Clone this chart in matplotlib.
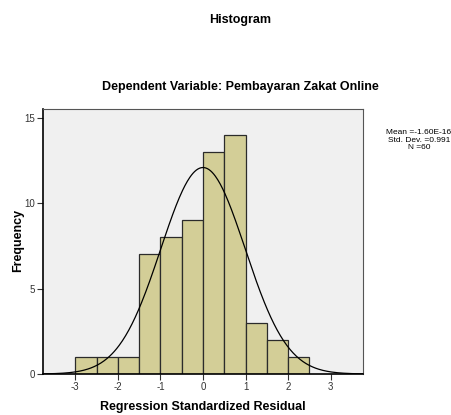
import numpy as np
import matplotlib
matplotlib.use("Agg")
import matplotlib.pyplot as plt

bin_edges = [-3.0, -2.5, -2.0, -1.5, -1.0, -0.5, 0.0, 0.5, 1.0, 1.5, 2.0, 2.5]
counts = [1, 1, 1, 7, 8, 9, 13, 14, 3, 2, 1]
mean = -1.60e-16
std = 0.991
n = 60
xticks = [-3, -2, -1, 0, 1, 2, 3]
yticks = [0, 5, 10, 15]

plt.rcParams['font.family'] = ['Liberation Sans', 'DejaVu Sans']

fig = plt.figure(figsize=(4.52, 4.15), dpi=100)
W, H = 452, 415
ax = fig.add_axes([43 / W, 1 - 374 / H, (363 - 43) / W, (374 - 109) / H])
ax.set_facecolor('#F0F0F0')

widths = np.diff(bin_edges)
ax.bar(bin_edges[:-1], counts, width=widths, align='edge', color='#D3CE97',
       edgecolor='#2b2b2b', linewidth=0.9, zorder=2)

xs = np.linspace(-3.76, 3.76, 400)
bw = widths[0]
ys = n * bw * np.exp(-0.5 * ((xs - mean) / std) ** 2) / (std * np.sqrt(2 * np.pi))
ax.plot(xs, ys, color='black', linewidth=0.9, zorder=3)

ax.set_xlim(-3.76, 3.76)
ax.set_ylim(0, 15.5)
ax.set_xticks(xticks)
ax.set_xticklabels([str(t) for t in xticks])
ax.set_yticks(yticks)
ax.tick_params(axis='both', direction='out', length=4, width=0.8, labelsize=7, pad=2,
               colors='#333333')
for s in ['top', 'right']:
    ax.spines[s].set_color('#555555')
    ax.spines[s].set_linewidth(0.8)
for s in ['left', 'bottom']:
    ax.spines[s].set_color('black')
    ax.spines[s].set_linewidth(1.2)

ax.set_xlabel('Regression Standardized Residual', fontsize=9, fontweight='bold')
ax.xaxis.set_label_coords((203 - 43) / 320, -(407 - 374) / 265)
ax.xaxis.label.set_va('center')
ax.set_ylabel('Frequency', fontsize=9, fontweight='bold')
ax.yaxis.set_label_coords(-(43 - 18) / 320, (374 - 240) / 265)
ax.yaxis.label.set_va('center')

fig.text(240 / W, 1 - 20 / H, 'Histogram', ha='center', va='center', fontsize=9, fontweight='bold')
fig.text(240 / W, 1 - 87 / H, 'Dependent Variable: Pembayaran Zakat Online', ha='center',
         va='center', fontsize=9, fontweight='bold')

fig.text(419 / W, 1 - 140 / H, 'Mean =-1.60E-16\nStd. Dev. =0.991\nN =60', ha='center',
         va='center', fontsize=6.0, linespacing=1.05)

fig.savefig('out.png', dpi=100)
